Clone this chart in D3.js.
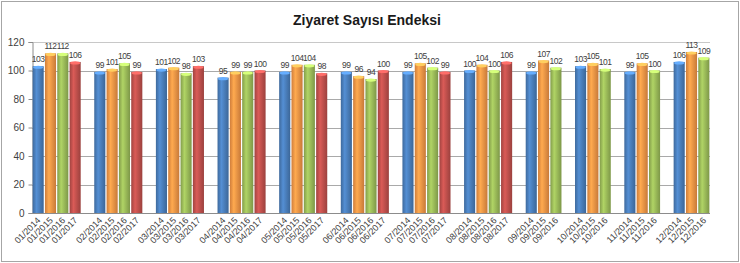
<!DOCTYPE html>
<meta charset="utf-8">
<script src="https://d3js.org/d3.v7.js"></script>
<style>
  body { margin: 0; background: #fff; }
  text { font-family: "Liberation Sans", Arial, sans-serif; }
</style>
<div id="chart"></div>
<script>
// values
const months = ["01","02","03","04","05","06","07","08","09","10","11","12"];
const years = ["2014","2015","2016","2017"];
const values2014 = [103, 99, 101, 95, 99, 99, 99, 100, 99, 103, 99, 106];
const values2015 = [112, 101, 102, 99, 104, 96, 105, 104, 107, 105, 105, 113];
const values2016 = [112, 105, 98, 99, 104, 94, 102, 100, 102, 101, 100, 109];
const values2017 = [106, 99, 103, 100, 98, 100, 99, 106]; // only Jan-Aug
const yTicks = [0, 20, 40, 60, 80, 100, 120];
const colors = {"2014": "#4a7ebb", "2015": "#f79646", "2016": "#9bbb59", "2017": "#c0504d"};

const series = {"2014": values2014, "2015": values2015, "2016": values2016, "2017": values2017};

// one slot per bar, with an empty slot between months
const slots = [];
const bars = [];
months.forEach((m, i) => {
  years.forEach(y => {
    const v = series[y][i];
    if (v === undefined) return;
    const key = m + "/" + y;
    slots.push(key);
    bars.push({key: key, year: y, value: v});
  });
  if (i < months.length - 1) slots.push("gap" + i);
});

const W = 740, H = 263;
const plot = {left: 32, right: 710, top: 42, bottom: 213};

const svg = d3.select("#chart").append("svg")
  .attr("width", W).attr("height", H);

// outer frame
svg.append("rect")
  .attr("x", 1.5).attr("y", 1.5).attr("width", W - 3).attr("height", H - 3)
  .attr("fill", "#fff").attr("stroke", "#a6a6a6");

// gradients for the rounded bar look
const defs = svg.append("defs");
years.forEach(y => {
  const c = d3.color(colors[y]);
  const g = defs.append("linearGradient").attr("id", "g" + y)
    .attr("x1", "0%").attr("x2", "100%").attr("y1", "0%").attr("y2", "0%");
  g.append("stop").attr("offset", "0%").attr("stop-color", c.darker(0.5));
  g.append("stop").attr("offset", "35%").attr("stop-color", c.brighter(0.35));
  g.append("stop").attr("offset", "100%").attr("stop-color", c.darker(0.6));
});

const x = d3.scaleBand().domain(slots).range([plot.left, plot.right]).paddingInner(0.1).paddingOuter(0.05);
const y = d3.scaleLinear().domain([0, 120]).range([plot.bottom, plot.top]);

// gridlines
svg.append("g").selectAll("line")
  .data(yTicks)
  .join("line")
  .attr("x1", plot.left).attr("x2", plot.right)
  .attr("y1", d => Math.round(y(d)) + 0.5).attr("y2", d => Math.round(y(d)) + 0.5)
  .attr("stroke", d => d === 120 ? "#c8c8c8" : "#a9a9a9");

// y axis
const yAxis = svg.append("g")
  .attr("transform", `translate(${plot.left + 0.5},0)`)
  .call(d3.axisLeft(y).tickValues(yTicks).tickSize(4).tickPadding(4));
yAxis.select(".domain").attr("stroke", "#8c8c8c");
yAxis.selectAll(".tick line").attr("stroke", "#8c8c8c");
yAxis.selectAll("text").attr("font-size", 10).attr("fill", "#404040");

// x axis line
svg.append("line")
  .attr("x1", plot.left).attr("x2", plot.right)
  .attr("y1", plot.bottom + 0.5).attr("y2", plot.bottom + 0.5)
  .attr("stroke", "#8c8c8c");

// bars
svg.append("g").selectAll("rect")
  .data(bars)
  .join("rect")
  .attr("x", d => x(d.key))
  .attr("y", d => y(d.value))
  .attr("width", x.bandwidth())
  .attr("height", d => y(0) - y(d.value))
  .attr("fill", d => `url(#g${d.year})`);

// light top caps
svg.append("g").selectAll("ellipse")
  .data(bars)
  .join("ellipse")
  .attr("cx", d => x(d.key) + x.bandwidth() / 2)
  .attr("cy", d => y(d.value) + 1)
  .attr("rx", x.bandwidth() / 2 - 0.5)
  .attr("ry", 1.6)
  .attr("fill", d => d3.color(colors[d.year]).brighter(0.9));

// value labels (slightly squeezed so neighbours touch less)
svg.append("g").selectAll("text")
  .data(bars)
  .join("text")
  .attr("x", d => x(d.key) + x.bandwidth() / 2)
  .attr("y", d => y(d.value) - 4)
  .attr("text-anchor", "middle")
  .attr("font-size", 8.5)
  .attr("letter-spacing", -0.5)
  .attr("fill", "#404040")
  .text(d => d.value);

// category labels, rotated
svg.append("g").selectAll("text")
  .data(bars)
  .join("text")
  .attr("transform", d => `translate(${x(d.key) + x.bandwidth() / 2 + 3},${plot.bottom + 8}) rotate(-45)`)
  .attr("text-anchor", "end")
  .attr("font-size", 9)
  .attr("fill", "#404040")
  .text(d => d.key);

// title
svg.append("text")
  .attr("x", 367).attr("y", 25)
  .attr("text-anchor", "middle")
  .attr("font-size", 14)
  .attr("font-weight", "bold")
  .attr("fill", "#1a1a1a")
  .text("Ziyaret Sayısı Endeksi");
</script>
